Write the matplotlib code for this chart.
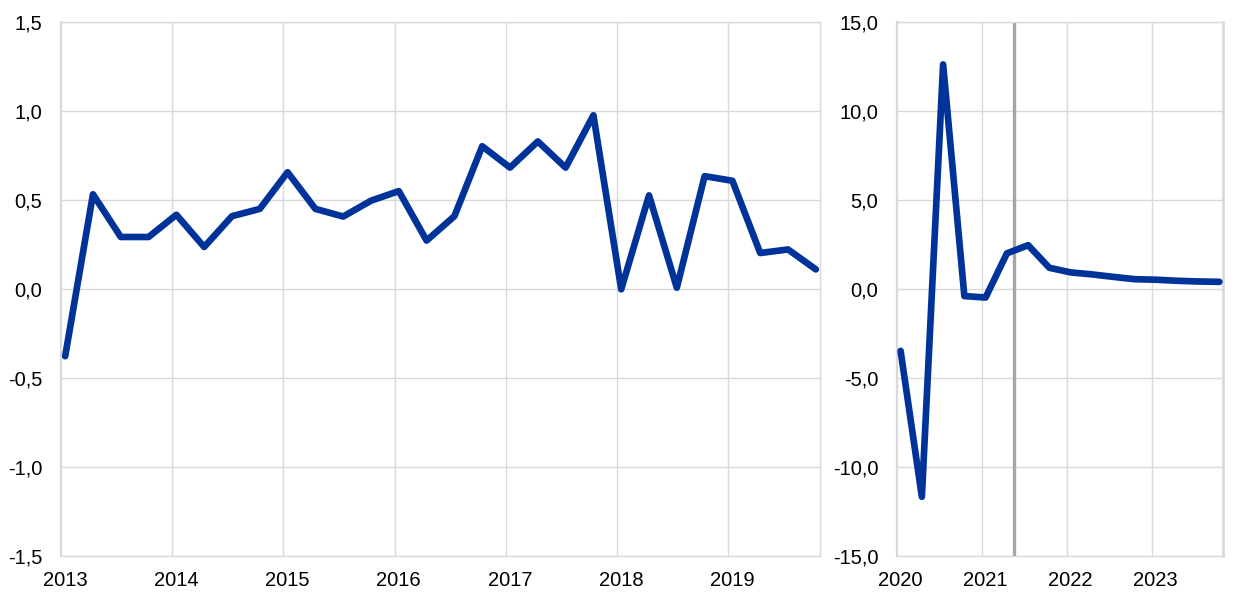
import matplotlib
matplotlib.use("Agg")
import matplotlib.pyplot as plt
from matplotlib.ticker import FixedLocator, FuncFormatter

plt.rcParams['font.family'] = ['Liberation Sans', 'DejaVu Sans']

# ---- data ----
left_years = ["2013", "2014", "2015", "2016", "2017", "2018", "2019"]
left_values = [-0.38, 0.53, 0.29, 0.29,
               0.415, 0.234, 0.407, 0.448,
               0.654, 0.448, 0.405, 0.494,
               0.548, 0.27, 0.407, 0.80,
               0.68, 0.827, 0.68, 0.974,
               -0.004, 0.524, 0.005, 0.632,
               0.606, 0.20, 0.22, 0.108]

right_years = ["2020", "2021", "2022", "2023"]
right_values = [-3.5, -11.7, 12.6, -0.42,
                -0.5, 1.98, 2.44, 1.17,
                0.91, 0.80, 0.66, 0.53,
                0.50, 0.44, 0.40, 0.38]
right_marker_q = 5.33  # vertical line position (quarter index)

left_yticks = [-1.5, -1.0, -0.5, 0.0, 0.5, 1.0, 1.5]
right_yticks = [-15.0, -10.0, -5.0, 0.0, 5.0, 10.0, 15.0]

# ---- style ----
BLUE = "#003399"
GRID = "#d9d9d9"
FS = 14.5

fig = plt.figure(figsize=(12.4, 6.02), dpi=100)
bottom = 1 - 555.5 / 602
top = 1 - 21.7 / 602
axL = fig.add_axes([61 / 1240, bottom, (820 - 61) / 1240, top - bottom])
axR = fig.add_axes([897 / 1240, bottom, (1223 - 897) / 1240, top - bottom])

comma = FuncFormatter(lambda v, p: f"{v:.1f}".replace(".", ","))


def style(ax, values, years, yticks, pad):
    n = len(values)
    xs = list(range(n))
    ax.plot(xs, values, color=BLUE, lw=4.8, solid_capstyle='round',
            solid_joinstyle='round', zorder=3)
    left = -pad
    right = n - 1 + pad
    ax.set_xlim(left, right)
    ax.set_ylim(yticks[0], yticks[-1])
    ax.yaxis.set_major_locator(FixedLocator(yticks))
    ax.yaxis.set_major_formatter(comma)
    ax.xaxis.set_major_locator(FixedLocator([4 * k for k in range(len(years))]))
    ax.set_xticklabels(years)
    ax.xaxis.set_minor_locator(FixedLocator([left + 4 * k for k in range(1, len(years))]))
    ax.grid(True, which='major', axis='y', color=GRID, lw=1.0, zorder=0)
    ax.grid(True, which='minor', axis='x', color=GRID, lw=1.0, zorder=0)
    ax.tick_params(axis='both', which='both', length=0, labelsize=FS)
    ax.tick_params(axis='y', pad=13.5)
    ax.tick_params(axis='x', pad=11)
    for s in ax.spines.values():
        s.set_color(GRID)
        s.set_linewidth(1.0)
    ax.spines['left'].set_linewidth(1.6)
    ax.set_axisbelow(True)


style(axL, left_values, left_years, left_yticks, 0.15)
style(axR, right_values, right_years, right_yticks, 0.17)
axR.axvline(right_marker_q, color="#a6a6a6", lw=2.4, zorder=2)
axR.spines['right'].set_linewidth(2.0)

fig.savefig("out.png", dpi=100)
